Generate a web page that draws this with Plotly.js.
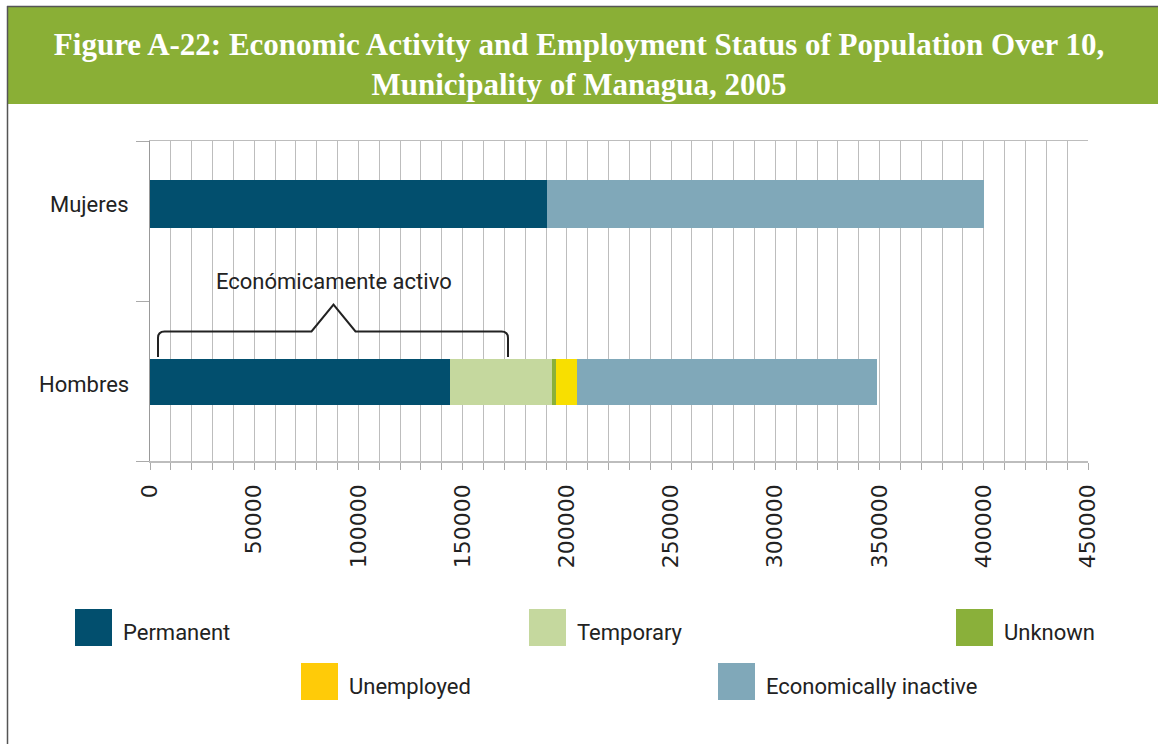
<!DOCTYPE html>
<html>
<head>
<meta charset="utf-8">
<script src="https://cdn.plot.ly/plotly-3.0.1.min.js"></script>
<style>
html,body{margin:0;padding:0;background:#fff;}
#chart{width:1158px;height:744px;}
</style>
</head>
<body>
<div id="chart"></div>
<script>
// ---- data ----
var categories = ['Hombres', 'Mujeres'];
var seriesNames = ['Permanent', 'Temporary', 'Unknown', 'Unemployed', 'Economically inactive'];
var permanent  = [144000, 190500];
var temporary  = [49000, 0];
var unknown    = [2000, 0];
var unemployed = [10000, 0];
var inactive   = [144000, 209500];
var xTickVals  = [0, 50000, 100000, 150000, 200000, 250000, 300000, 350000, 400000, 450000];
var xTickText  = ['0', '50000', '100000', '150000', '200000', '250000', '300000', '350000', '400000', '450000'];
var braceLabel = 'Económicamente activo';
var titleText  = 'Figure A-22: Economic Activity and Employment Status of Population Over 10,<br>Municipality of Managua, 2005';

// ---- styles ----
var barColors    = ['#024F6E', '#C5D89E', '#8AB03A', '#F8DF00', '#80A8B9'];
var legendColors = ['#024F6E', '#C5D89E', '#8AB03A', '#FFCB08', '#80A8B9'];
var seriesValues = [permanent, temporary, unknown, unemployed, inactive];

var W = 1158, H = 744;
var M = {l: 150, r: 70, t: 141, b: 283};
var plotW = W - M.l - M.r, plotH = H - M.t - M.b;
function px(x) { return (x - M.l) / plotW; }
function py(y) { return (H - M.b - y) / plotH; }

var barOffsets = [-0.15, -0.044];
var barWidths  = [0.2875, 0.3];

var traces = seriesNames.map(function (name, i) {
  return {
    type: 'bar',
    orientation: 'h',
    name: name,
    y: categories,
    x: seriesValues[i],
    offset: barOffsets,
    width: barWidths,
    marker: {color: barColors[i], line: {width: 0}},
    showlegend: false,
    hoverinfo: 'x+name'
  };
});

var shapes = [];
var annotations = [];

// banner
shapes.push({type: 'rect', xref: 'paper', yref: 'paper',
  x0: px(8), x1: px(1160), y0: py(104), y1: py(7),
  fillcolor: '#8AAF36', line: {width: 0}, layer: 'below'});
// page border (left + top)
shapes.push({type: 'line', xref: 'paper', yref: 'paper',
  x0: px(7.5), x1: px(7.5), y0: py(6), y1: py(746), line: {color: '#555', width: 1.5}});
shapes.push({type: 'line', xref: 'paper', yref: 'paper',
  x0: px(7), x1: px(1160), y0: py(6.5), y1: py(6.5), line: {color: '#555', width: 1.5}});

// brace
var bp = [[158,357],[158,338],[158,331.5,164.5,331.5],[311.5,331.5],[333.5,304.5],[355.5,331.5],[501.5,331.5],[508,331.5,508,338],[508,357]];
var path = 'M ' + px(bp[0][0]) + ',' + py(bp[0][1]);
for (var k = 1; k < bp.length; k++) {
  var p = bp[k];
  if (p.length === 4) path += ' Q ' + px(p[0]) + ',' + py(p[1]) + ' ' + px(p[2]) + ',' + py(p[3]);
  else path += ' L ' + px(p[0]) + ',' + py(p[1]);
}
shapes.push({type: 'path', xref: 'paper', yref: 'paper', path: path, line: {color: '#222', width: 2}});
annotations.push({xref: 'paper', yref: 'paper', x: px(334), y: py(281), text: braceLabel,
  showarrow: false, xanchor: 'center', yanchor: 'middle',
  font: {family: 'Roboto', size: 22, color: '#222'}});

// category labels
var catLabelY = [-0.02, 1.106];
categories.forEach(function (c, i) {
  annotations.push({xref: 'paper', yref: 'y', x: px(131), y: catLabelY[i], text: c,
    showarrow: false, xanchor: 'right', yanchor: 'middle',
    font: {family: 'Roboto', size: 22, color: '#222'}});
});

// legend
var legendPos = [[75,609],[529,609],[956,609],[301,663],[718,663]];
seriesNames.forEach(function (name, i) {
  var lx = legendPos[i][0], ly = legendPos[i][1];
  shapes.push({type: 'rect', xref: 'paper', yref: 'paper',
    x0: px(lx), x1: px(lx + 37), y0: py(ly + 37), y1: py(ly),
    fillcolor: legendColors[i], line: {width: 0}});
  annotations.push({xref: 'paper', yref: 'paper', x: px(lx + 46), y: py(ly + 23), text: name,
    showarrow: false, xanchor: 'left', yanchor: 'middle',
    font: {family: 'Roboto', size: 22, color: '#222'}});
});

var layout = {
  width: W, height: H,
  margin: M,
  paper_bgcolor: '#fff', plot_bgcolor: '#fff',
  barmode: 'stack',
  title: {text: titleText, xref: 'container', yref: 'container', x: 0.5, y: 1 - 55 / H,
    xanchor: 'center', yanchor: 'middle',
    font: {family: 'Liberation Serif', size: 31, weight: 'bold', color: '#fff'}},
  xaxis: {
    range: [0, 450000], tickmode: 'array', tickvals: xTickVals, ticktext: xTickText,
    tickangle: -90, ticks: 'outside', ticklen: 7, tickcolor: '#aaa', ticklabelstandoff: 6,
    tickfont: {family: 'DejaVu Sans', size: 22, color: '#222'},
    showgrid: true, gridcolor: '#bdbdbd', gridwidth: 1,
    minor: {dtick: 10000, showgrid: true, gridcolor: '#bdbdbd', ticks: 'outside', ticklen: 7, tickcolor: '#aaa'},
    showline: true, mirror: true, linecolor: '#bdbdbd', linewidth: 1.5, zeroline: false, fixedrange: true
  },
  yaxis: {
    type: 'category', categoryorder: 'array', categoryarray: categories,
    range: [-0.5, 1.5], tickson: 'boundaries', ticks: 'outside', ticklen: 13, tickcolor: '#aaa',
    showticklabels: false, showgrid: false, showline: true, linecolor: '#999', linewidth: 1.5,
    zeroline: false, fixedrange: true
  },
  shapes: shapes,
  annotations: annotations,
  showlegend: false
};

Plotly.newPlot('chart', traces, layout, {displayModeBar: false, staticPlot: true});
</script>
</body>
</html>
